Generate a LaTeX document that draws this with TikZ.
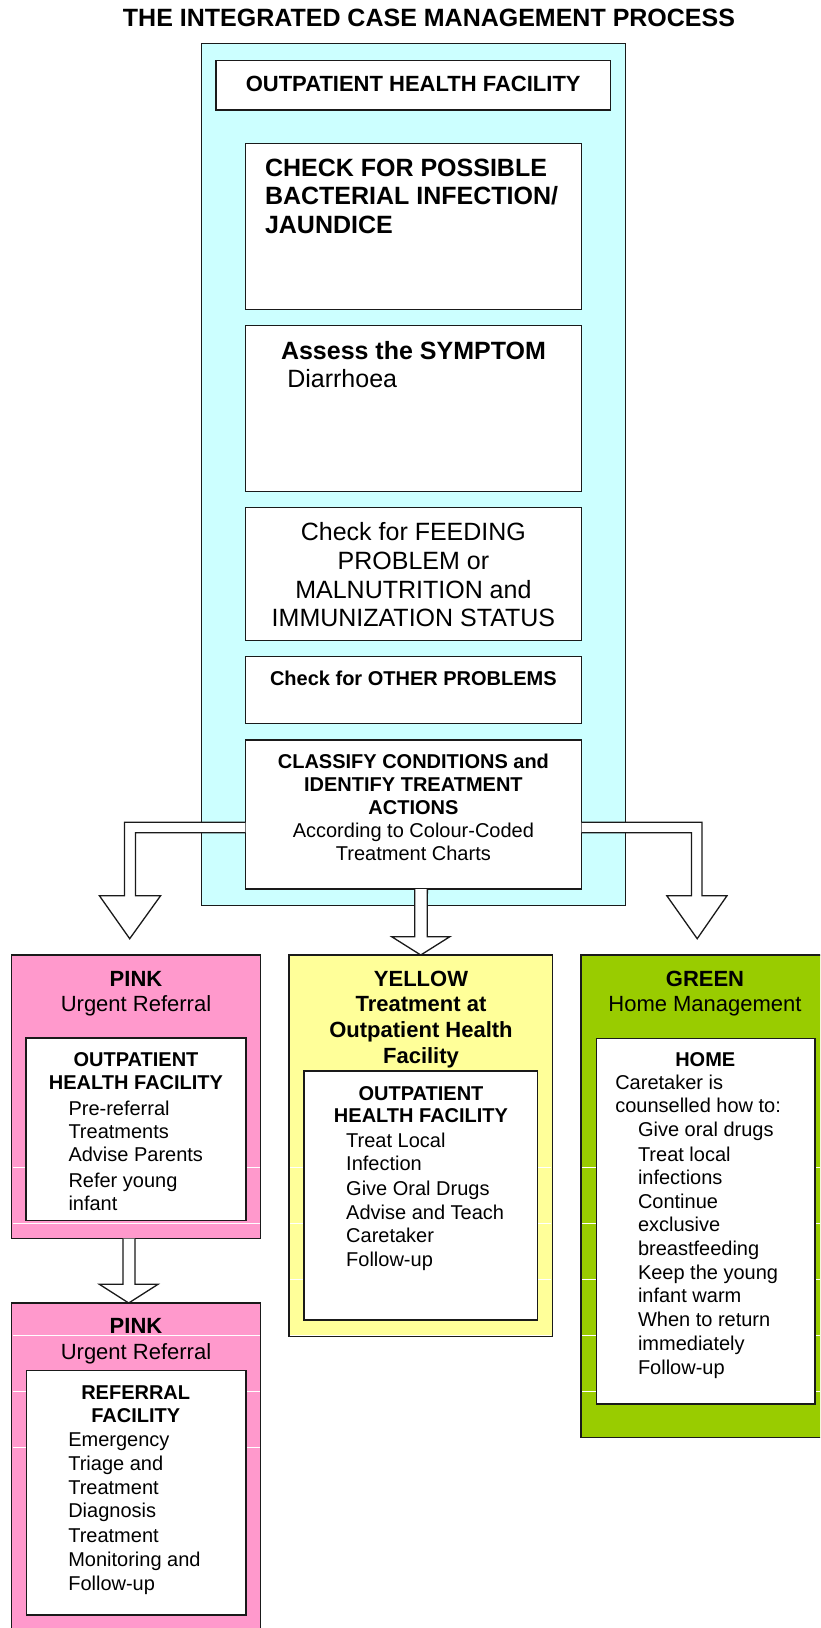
\documentclass[tikz,border=0pt]{standalone}
\usepackage{fontspec}
\setmainfont{Liberation Sans}
\usetikzlibrary{fit}
\definecolor{cyanbg}{HTML}{CCFFFF}
\definecolor{pinkbg}{HTML}{FF99CC}
\definecolor{yellowbg}{HTML}{FFFF99}
\definecolor{greenbg}{HTML}{99CC00}
\definecolor{edge}{HTML}{1A1A1A}
\begin{document}
\begin{tikzpicture}[x=1pt,y=-1pt,
  box/.style={draw=edge, line width=1.5pt, inner sep=0pt, outer sep=0pt},
  wbox/.style={box, fill=white},
  hollow/.style={draw=edge, line width=1.3pt, fill=white, line join=miter},
  sep/.style={draw=white, line width=0.9pt},
  t/.style={inner sep=0pt, outer sep=0pt},
  bA/.style={t, font=\fontsize{25}{28}\selectfont\bfseries},
  rA/.style={t, font=\fontsize{25}{28}\selectfont},
  bB/.style={t, font=\fontsize{22}{26}\selectfont\bfseries},
  rB/.style={t, font=\fontsize{22}{26}\selectfont},
  bC/.style={t, font=\fontsize{20}{23}\selectfont\bfseries},
  rC/.style={t, font=\fontsize{20}{23}\selectfont},
  ]
\useasboundingbox (0,0) rectangle (820,1628);
\clip (0,0) rectangle (820,1628);

% title
\node[bA, anchor=base] (title) at (429,26.5) {THE INTEGRATED CASE MANAGEMENT PROCESS};

% cyan outer box
\node[box, fill=cyanbg, fit={(201.4,43.3) (625.5,905.7)}] (cyan) {};
\node[wbox, fit={(216,60.3) (610.4,110)}] (ohf) {};
\node[bB, anchor=base] (ohft) at (413.2,91.7) {OUTPATIENT HEALTH FACILITY};

\node[wbox, fit={(245.3,143.3) (581.7,309.3)}] (chk) {};
\node[bA, anchor=base west] (chk1) at (265,176.7) {CHECK FOR POSSIBLE};
\node[bA, anchor=base west] (chk2) at (265,204.8) {BACTERIAL INFECTION/};
\node[bA, anchor=base west] (chk3) at (265,233.3) {JAUNDICE};

\node[wbox, fit={(245.3,325.3) (581.7,491.7)}] (ass) {};
\node[bA, anchor=base west] (ass1) at (281,359.3) {Assess the SYMPTOM};
\node[rA, anchor=base west] (ass2) at (287.3,387.7) {Diarrhoea};

\node[wbox, fit={(245.3,507.7) (581.7,640.7)}] (feed) {};
\node[rA, anchor=base] (feed1) at (413.4,540.7) {Check for FEEDING};
\node[rA, anchor=base] (feed2) at (413.4,569.3) {PROBLEM or};
\node[rA, anchor=base] (feed3) at (413.4,598.3) {MALNUTRITION and};
\node[rA, anchor=base] (feed4) at (413.4,626.7) {IMMUNIZATION STATUS};

\node[wbox, fit={(245.3,656.7) (581.7,723.3)}] (oth) {};
\node[bC, anchor=base] (oth1) at (413.4,685.7) {Check for OTHER PROBLEMS};

\node[wbox, fit={(245.3,740) (581.7,889)}] (cls) {};
\node[bC, anchor=base] (cls1) at (413.4,768.3) {CLASSIFY CONDITIONS and};
\node[bC, anchor=base] (cls2) at (413.4,791.7) {IDENTIFY TREATMENT};
\node[bC, anchor=base] (cls3) at (413.4,814.3) {ACTIONS};
\node[rC, anchor=base] (cls4) at (413.4,837.7) {According to Colour-Coded};
\node[rC, anchor=base] (cls5) at (413.4,860.7) {Treatment Charts};

% coloured boxes
\node[box, fill=pinkbg, fit={(11.5,955) (260.5,1238.7)}] (pk1) {};
\node[box, fill=yellowbg, fit={(289.2,955) (552.3,1336.7)}] (yel) {};
\node[box, fill=greenbg, fit={(581,955) (830,1437.3)}] (grn) {};
\node[box, fill=pinkbg, fit={(11.7,1303) (260.7,1645)}] (pk2) {};

% white row lines
\foreach \yy in {1167.3,1223.3,1279.3,1335.5,1391.5,1447.5}{
  \draw[sep] (12.5,\yy) -- (259.5,\yy);
  \draw[sep] (290.2,\yy) -- (551.3,\yy);
  \draw[sep] (582,\yy) -- (820,\yy);
}
\fill[white] (0,1239.6) rectangle (280,1302.2);
\fill[white] (280,1337.6) rectangle (570,1450);
\fill[white] (570,1438.2) rectangle (820,1460);

% arrows
\draw[hollow] ([yshift=-7.8pt]cls.west) -- (124.5,822.3) -- (124.5,895.7) -- (99.4,895.7)
  -- (129.7,938.7) -- (160.6,895.7) -- (135.5,895.7) -- (135.5,832.7) -- ([yshift=-18.2pt]cls.west);
\draw[hollow] ([yshift=-7.8pt]cls.east) -- (701.9,822.3) -- (701.9,895.7) -- (727,895.7)
  -- (697.2,938.7) -- (666.8,895.7) -- (691.4,895.7) -- (691.4,832.7) -- ([yshift=-18.2pt]cls.east);
\draw[hollow] ([xshift=1.25pt]cls.south) -- (414.7,936.7) -- (391.7,936.7) -- (yel.north)
  -- (449.8,936.7) -- (427.3,936.7) -- ([xshift=13.85pt]cls.south);
\draw[hollow] ([xshift=-13.1pt]pk1.south) -- (122.9,1284.3) -- (99.4,1284.3) -- ([xshift=-7.5pt]pk2.north)
  -- (158,1284.3) -- (134.9,1284.3) -- ([xshift=-1.1pt]pk1.south);

% pink 1
\node[bB, anchor=base] (pk1h) at (136,986) {PINK};
\node[rB, anchor=base] (pk1s) at (136,1011) {Urgent Referral};
\node[wbox, fit={(26.2,1038) (245.8,1220.7)}] (pk1in) {};
\node[bC, anchor=base] (pk1a) at (136,1066.7) {OUTPATIENT};
\node[bC, anchor=base] (pk1b) at (136,1089.3) {HEALTH FACILITY};
\node[rC, anchor=base west] (pk1c) at (68.5,1115) {Pre-referral};
\node[rC, anchor=base west] (pk1d) at (68.5,1138.3) {Treatments};
\node[rC, anchor=base west] (pk1e) at (68.5,1161.7) {Advise Parents};
\node[rC, anchor=base west] (pk1f) at (68.5,1187.3) {Refer young};
\node[rC, anchor=base west] (pk1g) at (68.5,1210) {infant};

% yellow
\node[bB, anchor=base] (yelh) at (421,986) {YELLOW};
\node[bB, anchor=base] (yels1) at (421,1011) {Treatment at};
\node[bB, anchor=base] (yels2) at (421,1037.7) {Outpatient Health};
\node[bB, anchor=base] (yels3) at (421,1063.3) {Facility};
\node[wbox, fit={(303.9,1071) (537.7,1320)}] (yelin) {};
\node[bC, anchor=base] (yela) at (421,1100) {OUTPATIENT};
\node[bC, anchor=base] (yelb) at (421,1122.7) {HEALTH FACILITY};
\node[rC, anchor=base west] (yelc) at (346.2,1147.3) {Treat Local};
\node[rC, anchor=base west] (yeld) at (346.2,1170.7) {Infection};
\node[rC, anchor=base west] (yele) at (346.2,1195.7) {Give Oral Drugs};
\node[rC, anchor=base west] (yelf) at (346.2,1219.3) {Advise and Teach};
\node[rC, anchor=base west] (yelg) at (346.2,1242.7) {Caretaker};
\node[rC, anchor=base west] (yelk) at (346.2,1266.7) {Follow-up};

% green
\node[bB, anchor=base] (grnh) at (705,986) {GREEN};
\node[rB, anchor=base] (grns) at (705,1011) {Home Management};
\node[wbox, fit={(596.5,1038.3) (815.2,1404)}] (grnin) {};
\node[bC, anchor=base] (grna) at (705.3,1066) {HOME};
\node[rC, anchor=base west] (grnb) at (615.3,1089.3) {Caretaker is};
\node[rC, anchor=base west] (grnc) at (615.3,1112.3) {counselled how to:};
\node[rC, anchor=base west] (grnd) at (638,1136.7) {Give oral drugs};
\node[rC, anchor=base west] (grne) at (638,1161) {Treat local};
\node[rC, anchor=base west] (grnf) at (638,1184.3) {infections};
\node[rC, anchor=base west] (grng) at (638,1208.3) {Continue};
\node[rC, anchor=base west] (grnk) at (638,1231.7) {exclusive};
\node[rC, anchor=base west] (grnl) at (638,1255) {breastfeeding};
\node[rC, anchor=base west] (grnm) at (638,1279.3) {Keep the young};
\node[rC, anchor=base west] (grnn) at (638,1302.7) {infant warm};
\node[rC, anchor=base west] (grno) at (638,1326.7) {When to return};
\node[rC, anchor=base west] (grnp) at (638,1350) {immediately};
\node[rC, anchor=base west] (grnq) at (638,1374.7) {Follow-up};

% pink 2
\node[bB, anchor=base] (pk2h) at (136,1333.3) {PINK};
\node[rB, anchor=base] (pk2s) at (136,1359.3) {Urgent Referral};
\node[wbox, fit={(26.3,1370.7) (246,1615)}] (pk2in) {};
\node[bC, anchor=base] (pk2a) at (135.7,1399.3) {REFERRAL};
\node[bC, anchor=base] (pk2b) at (135.7,1422.7) {FACILITY};
\node[rC, anchor=base west] (pk2c) at (68.3,1446.7) {Emergency};
\node[rC, anchor=base west] (pk2d) at (68.3,1470.7) {Triage and};
\node[rC, anchor=base west] (pk2e) at (68.3,1494) {Treatment};
\node[rC, anchor=base west] (pk2f) at (68.3,1517.7) {Diagnosis};
\node[rC, anchor=base west] (pk2g) at (68.3,1542.3) {Treatment};
\node[rC, anchor=base west] (pk2k) at (68.3,1566.7) {Monitoring and};
\node[rC, anchor=base west] (pk2l) at (68.3,1590) {Follow-up};
\end{tikzpicture}
\end{document}
